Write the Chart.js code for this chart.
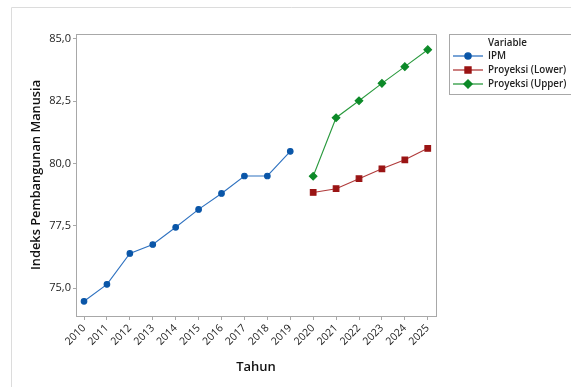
<!DOCTYPE html>
<html>
<head>
<meta charset="utf-8">
<script src="https://cdn.jsdelivr.net/npm/chart.js@4/dist/chart.umd.min.js"></script>
<style>
  html, body { margin: 0; padding: 0; background: #fff; }
  canvas { display: block; }
</style>
</head>
<body>
<canvas id="graph" width="571" height="387"></canvas>
<script>
// data
const yearsIPM = [2010, 2011, 2012, 2013, 2014, 2015, 2016, 2017, 2018, 2019];
const ipm = [74.47, 75.15, 76.39, 76.75, 77.44, 78.16, 78.80, 79.50, 79.50, 80.49];
const yearsProj = [2020, 2021, 2022, 2023, 2024, 2025];
const projLower = [78.84, 78.99, 79.39, 79.79, 80.15, 80.61];
const projUpper = [79.49, 81.84, 82.52, 83.22, 83.89, 84.57];
const xTicks = [2010, 2011, 2012, 2013, 2014, 2015, 2016, 2017, 2018, 2019, 2020, 2021, 2022, 2023, 2024, 2025];
const yTicks = [75, 77.5, 80, 82.5, 85];

const FONT = "'Open Sans', 'Noto Sans', sans-serif";

const pts = (xs, ys) => xs.map((x, i) => ({ x: x, y: ys[i] }));

const dataset1 = {
  label: 'IPM',
  data: pts(yearsIPM, ipm),
  borderColor: '#2f72c0',
  backgroundColor: '#0a56a8',
  pointBorderColor: '#0a56a8',
  pointStyle: 'circle',
  pointRadius: 2.8,
  borderWidth: 1.1
};

const dataset2 = {
  label: 'Proyeksi (Lower)',
  data: pts(yearsProj, projLower),
  borderColor: '#b03a3a',
  backgroundColor: '#9a1414',
  pointBorderColor: '#9a1414',
  pointStyle: 'rect',
  pointRadius: 4,
  borderWidth: 1.1
};

const dataset3 = {
  label: 'Proyeksi (Upper)',
  data: pts(yearsProj, projUpper),
  borderColor: '#2a9a3e',
  backgroundColor: '#0c8a28',
  pointBorderColor: '#0c8a28',
  pointStyle: 'rectRot',
  pointRadius: 3.8,
  borderWidth: 1.1
};

// frame, plot box and legend box
const decor = {
  id: 'decor',
  beforeDraw(chart) {
    const ctx = chart.ctx;
    ctx.save();
    ctx.strokeStyle = '#dcdcdc';
    ctx.lineWidth = 1;
    ctx.beginPath();
    ctx.moveTo(11.5, 387);
    ctx.lineTo(11.5, 7.5);
    ctx.lineTo(571, 7.5);
    ctx.stroke();
    ctx.restore();
  },
  afterDraw(chart) {
    const ctx = chart.ctx;
    const a = chart.chartArea;
    ctx.save();
    ctx.strokeStyle = '#a8a8a8';
    ctx.lineWidth = 1;
    ctx.beginPath();
    ctx.moveTo(a.left, a.top + 0.5);
    ctx.lineTo(a.right + 0.5, a.top + 0.5);
    ctx.lineTo(a.right + 0.5, a.bottom);
    ctx.stroke();

    // legend
    const lx = 449.5, ly = 34.5;
    ctx.strokeStyle = '#a8a8a8';
    ctx.strokeRect(lx, ly, 122, 60);
    ctx.fillStyle = '#222';
    ctx.textBaseline = 'middle';
    ctx.textAlign = 'left';
    ctx.font = '600 9.8px ' + FONT;
    ctx.fillText('Variable', 488, 43);
    chart.data.datasets.forEach((ds, i) => {
      const y = 56 + i * 14;
      ctx.strokeStyle = ds.borderColor;
      ctx.lineWidth = 1.3;
      ctx.beginPath();
      ctx.moveTo(453, y);
      ctx.lineTo(483, y);
      ctx.stroke();
      ctx.fillStyle = ds.backgroundColor;
      ctx.strokeStyle = ds.pointBorderColor;
      Chart.helpers.drawPoint(ctx, { pointStyle: ds.pointStyle, radius: ds.pointRadius + 0.3, borderWidth: 1, rotation: 0 }, 468, y);
      ctx.fillStyle = '#222';
      ctx.font = '600 9.8px ' + FONT;
      ctx.fillText(ds.label, 488, y);
    });
    ctx.restore();
  }
};

const config = {
  type: 'line',
  data: { datasets: [dataset1, dataset2, dataset3] },
  options: {
    responsive: false,
    animation: false,
    layout: { padding: { top: 34, right: 135, left: 0, bottom: 0 } },
    plugins: { legend: { display: false }, tooltip: { enabled: false } },
    scales: {
      x: {
        type: 'linear',
        min: 2009.65,
        max: 2025.36,
        afterFit: s => { s.height = 71; },
        afterBuildTicks: s => { s.ticks = xTicks.map(v => ({ value: v })); },
        grid: { display: true, drawOnChartArea: false, drawTicks: true, tickLength: 4, color: '#a8a8a8' },
        border: { display: true, color: '#a8a8a8' },
        ticks: {
          autoSkip: false,
          minRotation: 45,
          maxRotation: 45,
          padding: 2,
          color: '#222',
          font: { family: FONT, size: 10.5 },
          callback: v => String(v)
        },
        title: {
          display: true,
          text: 'Tahun',
          color: '#111',
          font: { family: FONT, size: 13, weight: '600' },
          padding: { top: 0, bottom: 12 }
        }
      },
      y: {
        min: 73.88,
        max: 85.2,
        afterFit: s => { s.width = 76; },
        afterBuildTicks: s => { s.ticks = yTicks.map(v => ({ value: v })); },
        grid: { display: true, drawOnChartArea: false, drawTicks: true, tickLength: 3, color: '#a8a8a8' },
        border: { display: true, color: '#a8a8a8' },
        ticks: {
          padding: 2,
          color: '#222',
          font: { family: FONT, size: 11 },
          callback: v => v.toFixed(1).replace('.', ',')
        },
        title: {
          display: true,
          text: 'Indeks Pembangunan Manusia',
          color: '#111',
          font: { family: FONT, size: 12.8, weight: '600' },
          padding: { top: 29, bottom: 0 }
        }
      }
    }
  },
  plugins: [decor]
};

const graph = document.querySelector('#graph');
new Chart(graph, config);
</script>
</body>
</html>
